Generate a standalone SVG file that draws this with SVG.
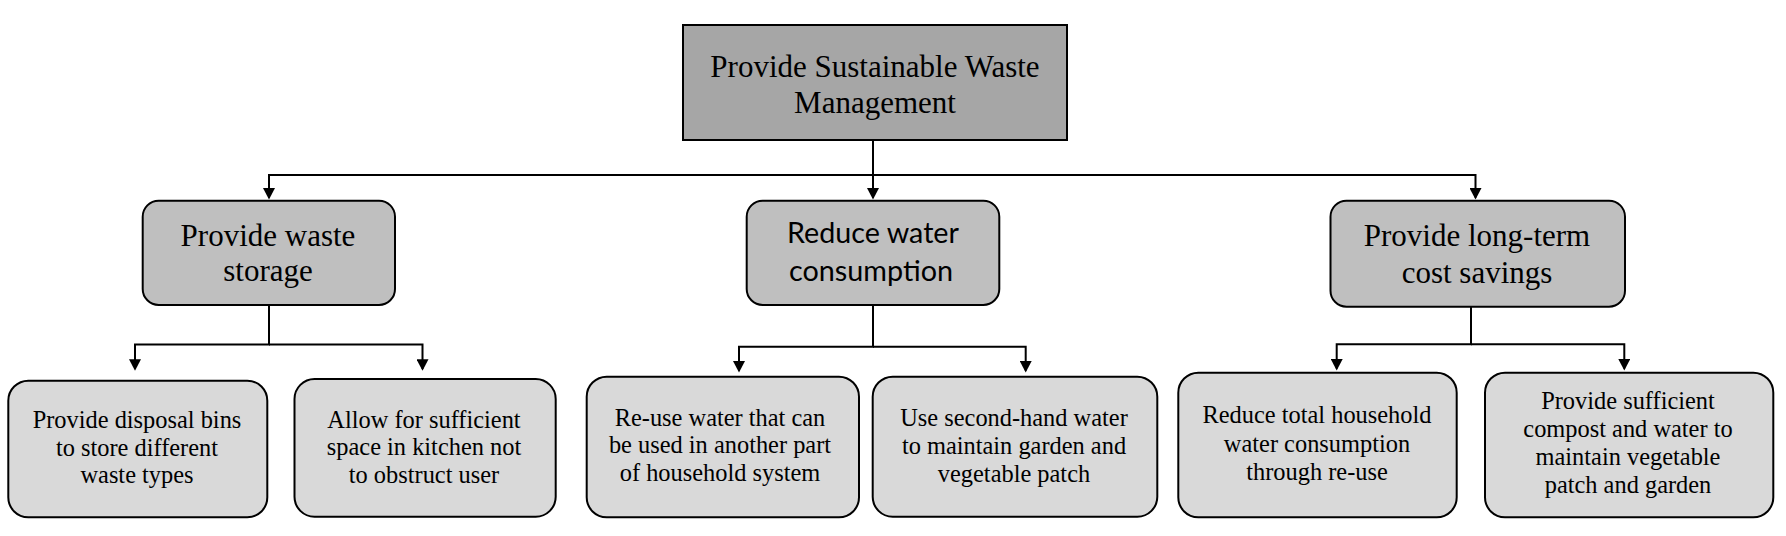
<svg xmlns="http://www.w3.org/2000/svg" width="1786" height="536" viewBox="0 0 1786 536">
<style>
.box{stroke:#000;stroke-width:2}
.top{fill:#a6a6a6}
.mid{fill:#bfbfbf}
.leaf{fill:#d9d9d9}
.serif{font-family:"Liberation Serif","Times New Roman",serif;fill:#000;text-anchor:middle}
.sans{font-family:Lato,"Open Sans","Liberation Sans",sans-serif;fill:#000;text-anchor:middle}
.t31{font-size:31px}
.t24{font-size:24.4px}
.conn{fill:none;stroke:#000;stroke-width:2;marker-end:url(#arr)}
</style>
<defs>
<marker id="arr" markerUnits="userSpaceOnUse" viewBox="0 0 12 12" refX="9.5" refY="6" markerWidth="12" markerHeight="12" orient="auto">
<path d="M0,0 L11.5,6 L0,12 z" fill="#000"/>
</marker>
</defs>
<rect width="1786" height="536" fill="#fff"/>
<g id="connectors">
<path class="conn" d="M873,140 V197.5"/>
<path class="conn" d="M873,175 H269 V197.5"/>
<path class="conn" d="M873,175 H1475.5 V197.5"/>
<path class="conn" d="M269,305 V344.5 H135 V368.7"/>
<path class="conn" d="M269,344.5 H422.5 V368.7"/>
<path class="conn" d="M873,305 V346.7 H739 V370.5"/>
<path class="conn" d="M873,346.7 H1025.7 V370.5"/>
<path class="conn" d="M1471,306.7 V344.3 H1336.7 V368.5"/>
<path class="conn" d="M1471,344.3 H1624.3 V368.5"/>
</g>
<g id="root">
<rect class="box top" x="683" y="25" width="384" height="115"/>
<text class="serif t31" x="875" y="77">Provide Sustainable Waste</text>
<text class="serif t31" x="875" y="113">Management</text>
</g>
<g id="waste-storage">
<rect class="box mid" x="142.7" y="200.7" width="252.3" height="104.3" rx="16"/>
<text class="serif t31" x="268" y="246">Provide waste</text>
<text class="serif t31" x="268" y="280.7">storage</text>
</g>
<g id="reduce-water">
<rect class="box mid" x="746.7" y="200.7" width="252.6" height="104.3" rx="16"/>
<text class="sans" font-size="28" x="873" y="243.3" textLength="172" lengthAdjust="spacingAndGlyphs">Reduce water</text>
<text class="sans" font-size="28" x="871" y="280.7" textLength="164" lengthAdjust="spacingAndGlyphs">consumption</text>
</g>
<g id="cost-savings">
<rect class="box mid" x="1330.5" y="200.7" width="294.5" height="106" rx="16"/>
<text class="serif t31" x="1477" y="246">Provide long-term</text>
<text class="serif t31" x="1477" y="283.3">cost savings</text>
</g>
<g id="disposal-bins">
<rect class="box leaf" x="8.3" y="380.7" width="259" height="136.6" rx="20"/>
<text class="serif t24" x="137" y="427.7">Provide disposal bins</text>
<text class="serif t24" x="137" y="455.7">to store different</text>
<text class="serif t24" x="137" y="483.3">waste types</text>
</g>
<g id="kitchen-space">
<rect class="box leaf" x="294.5" y="379" width="261.2" height="137.7" rx="20"/>
<text class="serif t24" x="424" y="427.5">Allow for sufficient</text>
<text class="serif t24" x="424" y="455.2">space in kitchen not</text>
<text class="serif t24" x="424" y="483.3">to obstruct user</text>
</g>
<g id="reuse-water">
<rect class="box leaf" x="586.7" y="376.7" width="272.3" height="140.6" rx="20"/>
<text class="serif t24" x="720" y="425.7">Re-use water that can</text>
<text class="serif t24" x="720" y="453.3">be used in another part</text>
<text class="serif t24" x="720" y="481">of household system</text>
</g>
<g id="second-hand-water">
<rect class="box leaf" x="872.7" y="376.7" width="284.6" height="140" rx="20"/>
<text class="serif t24" x="1014" y="426">Use second-hand water</text>
<text class="serif t24" x="1014" y="454">to maintain garden and</text>
<text class="serif t24" x="1014" y="481.7">vegetable patch</text>
</g>
<g id="reduce-total">
<rect class="box leaf" x="1178.3" y="372.7" width="278.4" height="144.6" rx="20"/>
<text class="serif t24" x="1317" y="423.3">Reduce total household</text>
<text class="serif t24" x="1317" y="451.7">water consumption</text>
<text class="serif t24" x="1317" y="480">through re-use</text>
</g>
<g id="compost-water">
<rect class="box leaf" x="1485" y="372.7" width="288.3" height="144.6" rx="20"/>
<text class="serif t24" x="1628" y="409.3">Provide sufficient</text>
<text class="serif t24" x="1628" y="437.3">compost and water to</text>
<text class="serif t24" x="1628" y="465">maintain vegetable</text>
<text class="serif t24" x="1628" y="492.7">patch and garden</text>
</g>
</svg>
